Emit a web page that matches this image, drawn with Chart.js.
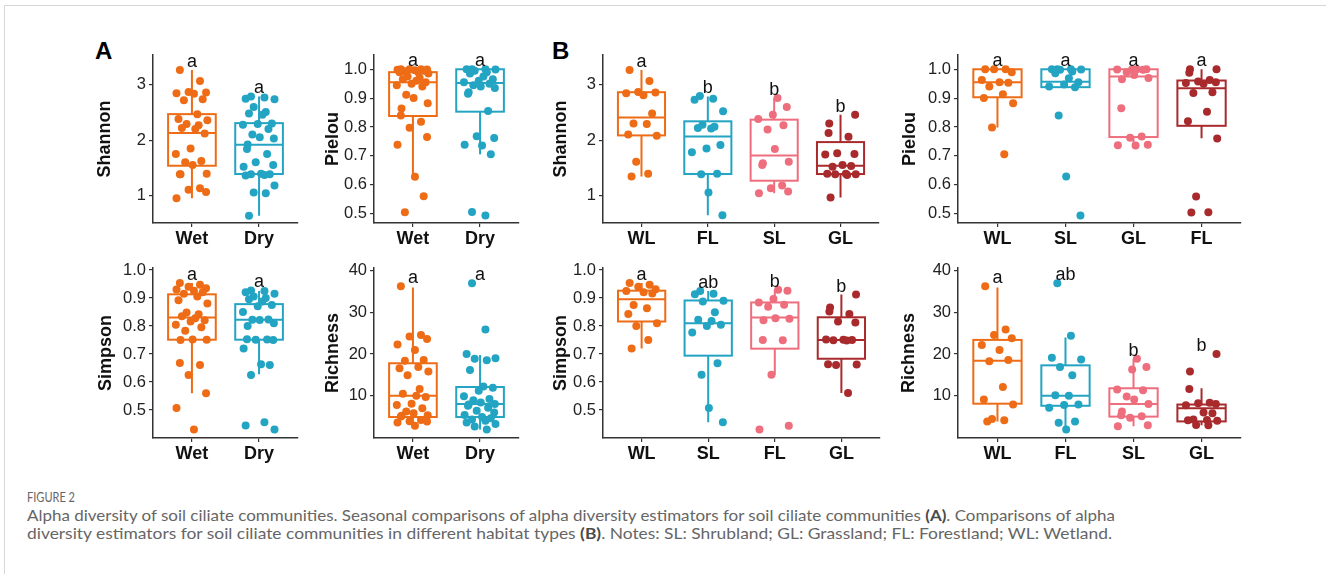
<!DOCTYPE html>
<html>
<head>
<meta charset="utf-8">
<script src="https://cdn.jsdelivr.net/npm/chart.js@4.4.1/dist/chart.umd.min.js"></script>
<style>
  body { margin: 0; background: #fff; width: 1326px; height: 574px; overflow: hidden; position: relative; }
  .frame { position: absolute; left: 4px; top: 5px; width: 1400px; height: 700px; border-top: 1px solid #d6d6d6; border-left: 1px solid #d6d6d6; }
  canvas { position: absolute; }
  .tag { position: absolute; font: bold 24px "Liberation Sans", Arial, sans-serif; line-height: 24px; color: #000; }
  .cap { position: absolute; left: 27px; white-space: nowrap; font-family: Lato, "Open Sans", sans-serif; color: #666; transform-origin: 0 0; }
  .cap b { color: #4a4a4a; }
</style>
</head>
<body>
<div class="frame"></div>
<div class="tag" style="left:95px;top:39px">A</div>
<div class="tag" style="left:552px;top:39px">B</div>

<canvas id="aShannon"></canvas>
<canvas id="aPielou"></canvas>
<canvas id="bShannon"></canvas>
<canvas id="bPielou"></canvas>
<canvas id="aSimpson"></canvas>
<canvas id="aRichness"></canvas>
<canvas id="bSimpson"></canvas>
<canvas id="bRichness"></canvas>

<div class="cap" id="cap0" data-w="48" style="top:488px;font-size:14px;">FIGURE 2</div>
<div class="cap" id="cap1" data-w="1088" style="top:505px;font-size:16px;">Alpha diversity of soil ciliate communities. Seasonal comparisons of alpha diversity estimators for soil ciliate communities <b>(A)</b>. Comparisons of alpha</div>
<div class="cap" id="cap2" data-w="1085" style="top:523px;font-size:16px;">diversity estimators for soil ciliate communities in different habitat types <b>(B)</b>. Notes: SL: Shrubland; GL: Grassland; FL: Forestland; WL: Wetland.</div>

<script>
// ---- data ----
const seasons = ['Wet', 'Dry'];

const shannonSeason = [
  [3.27, 3.07, 2.87, 2.86, 2.85, 2.84, 2.74, 2.72, 2.47, 2.38, 2.36, 2.29, 2.27, 2.22, 2.20, 2.12, 1.85, 1.75, 1.62, 1.60, 1.55, 1.39, 1.38, 1.38, 1.13, 1.10, 1.06, 0.95],
  [2.79, 2.77, 2.75, 2.74, 2.60, 2.51, 2.48, 2.46, 2.30, 2.29, 2.28, 2.20, 2.10, 2.05, 2.03, 1.92, 1.84, 1.75, 1.60, 1.55, 1.52, 1.39, 1.38, 1.38, 1.37, 1.36, 1.18, 1.05, 1.04, 0.63]
];
const shannonSeasonBox = [[0.95, 1.536, 2.127, 2.47, 3.27], [0.63, 1.386, 1.916, 2.307, 2.79]];
const shannonSeasonLetters = ['a', 'a'];

const pielouSeason = [
  [1.0, 1.0, 1.0, 0.999, 0.998, 0.997, 0.995, 0.993, 0.99, 0.99, 0.985, 0.975, 0.97, 0.965, 0.96, 0.955, 0.95, 0.945, 0.94, 0.912, 0.90, 0.882, 0.864, 0.84, 0.818, 0.797, 0.765, 0.738, 0.627, 0.56, 0.504],
  [1.0, 1.0, 1.0, 0.999, 0.995, 0.99, 0.985, 0.975, 0.965, 0.96, 0.955, 0.95, 0.945, 0.94, 0.935, 0.92, 0.915, 0.855, 0.768, 0.762, 0.738, 0.736, 0.705, 0.505, 0.493]
];
const pielouSeasonBox = [[0.628, 0.838, 0.955, 0.99, 1.0], [0.705, 0.853, 0.952, 1.0, 1.0]];
const pielouSeasonLetters = ['a', 'a'];

const simpsonSeason = [
  [0.953, 0.947, 0.94, 0.935, 0.93, 0.926, 0.92, 0.915, 0.905, 0.892, 0.88, 0.848, 0.842, 0.835, 0.828, 0.82, 0.816, 0.804, 0.795, 0.783, 0.752, 0.751, 0.750, 0.668, 0.661, 0.625, 0.560, 0.507, 0.430],
  [0.927, 0.925, 0.92, 0.915, 0.905, 0.9, 0.895, 0.887, 0.875, 0.87, 0.85, 0.823, 0.822, 0.821, 0.81, 0.80, 0.753, 0.752, 0.751, 0.75, 0.72, 0.663, 0.661, 0.625, 0.456, 0.445, 0.43]
];
const simpsonSeasonBox = [[0.56, 0.751, 0.830, 0.913, 0.953], [0.628, 0.751, 0.822, 0.878, 0.925]];
const simpsonSeasonLetters = ['a', 'a'];

const richnessSeason = [
  [36.3, 24.6, 24.2, 23.6, 22.3, 21.0, 18.6, 18.4, 16.9, 16.6, 15.8, 14.9, 11.6, 10.5, 10.0, 9.7, 8.1, 7.8, 7.0, 6.2, 5.8, 5.3, 5.2, 5.0, 4.2, 3.9, 3.8, 3.6, 2.8],
  [37.0, 25.9, 20.0, 19.0, 18.9, 18.5, 16.2, 12.2, 11.9, 11.2, 9.9, 9.2, 8.9, 8.4, 8.0, 7.9, 7.6, 7.1, 6.4, 6.0, 5.4, 4.9, 4.6, 4.3, 4.0, 3.6, 3.2, 2.6, 1.9]
];
const richnessSeasonBox = [[2.8, 4.9, 10, 17.8, 36], [1.9, 4.9, 8.0, 12.1, 19.8]];
const richnessSeasonLetters = ['a', 'a'];

const shannonHabitats = ['WL', 'FL', 'SL', 'GL'];
const shannonHabitat = [
  [3.27, 3.07, 2.87, 2.86, 2.85, 2.81, 2.48, 2.30, 2.29, 2.10, 2.08, 1.61, 1.39, 1.34],
  [2.80, 2.75, 2.73, 2.52, 2.28, 2.24, 2.22, 2.21, 1.91, 1.85, 1.78, 1.39, 1.38, 1.05, 0.64],
  [2.76, 2.60, 2.46, 2.38, 2.27, 2.19, 1.84, 1.61, 1.58, 1.55, 1.18, 1.13, 1.07, 1.04],
  [2.46, 2.30, 2.13, 2.06, 1.76, 1.75, 1.74, 1.55, 1.53, 1.52, 1.39, 1.39, 1.38, 1.38, 1.37, 0.96]
];
const shannonHabitatBox = [[1.34, 2.085, 2.41, 2.867, 3.27], [0.64, 1.386, 2.066, 2.34, 2.79], [1.04, 1.265, 1.72, 2.37, 2.76], [0.96, 1.386, 1.536, 1.964, 2.46]];
const shannonHabitatLetters = ['a', 'b', 'b', 'b'];

const pielouHabitats = ['WL', 'SL', 'GL', 'FL'];
const pielouHabitat = [
  [1.0, 1.0, 1.0, 0.99, 0.963, 0.955, 0.953, 0.94, 0.913, 0.90, 0.882, 0.798, 0.705],
  [1.0, 1.0, 1.0, 0.999, 0.998, 0.992, 0.986, 0.969, 0.955, 0.947, 0.94, 0.938, 0.84, 0.628, 0.493],
  [1.0, 1.0, 1.0, 0.999, 0.998, 0.99, 0.98, 0.97, 0.965, 0.865, 0.767, 0.763, 0.738, 0.737, 0.736],
  [1.0, 1.0, 0.988, 0.963, 0.958, 0.955, 0.952, 0.95, 0.92, 0.918, 0.853, 0.82, 0.76, 0.559, 0.504, 0.503]
];
const pielouHabitatBox = [[0.798, 0.903, 0.955, 1.0, 1.0], [0.938, 0.938, 0.957, 1.0, 1.0], [0.736, 0.765, 0.975, 1.0, 1.0], [0.761, 0.804, 0.934, 0.961, 1.0]];
const pielouHabitatLetters = ['a', 'a', 'a', 'a'];

const simpsonHabitats = ['WL', 'SL', 'FL', 'GL'];
const simpsonHabitat = [
  [0.953, 0.947, 0.94, 0.931, 0.925, 0.92, 0.916, 0.875, 0.863, 0.843, 0.81, 0.80, 0.75, 0.72],
  [0.925, 0.915, 0.913, 0.89, 0.887, 0.849, 0.822, 0.818, 0.804, 0.80, 0.777, 0.667, 0.626, 0.507, 0.456],
  [0.929, 0.926, 0.896, 0.884, 0.876, 0.869, 0.828, 0.826, 0.82, 0.75, 0.749, 0.626, 0.444, 0.43],
  [0.912, 0.866, 0.852, 0.843, 0.816, 0.812, 0.752, 0.751, 0.75, 0.749, 0.748, 0.663, 0.662, 0.661, 0.561]
];
const simpsonHabitatBox = [[0.72, 0.816, 0.895, 0.926, 0.953], [0.456, 0.694, 0.81, 0.891, 0.925], [0.626, 0.719, 0.830, 0.884, 0.929], [0.561, 0.683, 0.75, 0.831, 0.912]];
const simpsonHabitatLetters = ['a', 'ab', 'b', 'b'];

const richnessHabitats = ['WL', 'FL', 'SL', 'GL'];
const richnessHabitat = [
  [36.3, 25.9, 24.6, 23.8, 22.2, 21.0, 18.6, 18.3, 12.1, 9.1, 7.9, 4.4, 4.1, 3.8],
  [37.0, 24.4, 19.1, 18.7, 16.9, 14.9, 10.1, 10.0, 7.9, 7.8, 7.1, 3.8, 3.5, 1.9],
  [18.9, 16.9, 16.3, 11.5, 11.3, 9.8, 9.1, 8.0, 6.2, 5.3, 5.1, 4.7, 2.9, 2.7],
  [20.0, 15.8, 11.6, 8.3, 8.2, 8.0, 7.7, 6.0, 5.8, 4.3, 4.2, 4.1, 4.0, 3.0, 2.9]
];
const richnessHabitatBox = [[3.8, 8.1, 18.4, 23.4, 36], [1.9, 7.6, 10, 17.3, 24.0], [2.7, 5.0, 8.0, 11.8, 18.9], [2.9, 3.85, 7.0, 7.9, 11.8]];
const richnessHabitatLetters = ['a', 'ab', 'b', 'b'];

const shannonTicks = [1, 2, 3];
const ratioTicks = [0.5, 0.6, 0.7, 0.8, 0.9, 1.0];
const richnessTicks = [10, 20, 30, 40];

// ---- drawing ----
const colors = ['#ee6c16', '#23a4c3', '#ee6e7e', '#a82a2c'];
const jitter = [-0.18, 0.12, -0.05, 0.21, -0.23, 0.03, 0.16, -0.12, 0.08, -0.2, 0.23, -0.08, 0.1, -0.15, 0.05, 0.19, -0.02, -0.24, 0.14, -0.1, 0.01, 0.22, -0.17];
const textFont = '"Liberation Sans", Arial, sans-serif';

function boxPanel(id, g, title, yMin, yMax, yTicks, decimals, cats, groups, boxes, letters) {
  const n = cats.length;
  const xMin = 0.42, xMax = n + 0.58;
  const left = Math.round(g.titleX - 11);
  const top = g.top - 14;
  const right = g.axisX + (xMax - xMin) * g.step;
  const canvas = document.getElementById(id);
  canvas.width = Math.ceil(right - left) + 2;
  canvas.height = g.bottom - top + 30;
  canvas.style.left = left + 'px';
  canvas.style.top = top + 'px';

  const boxPlugin = {
    id: 'boxes',
    beforeDatasetsDraw(chart) {
      const { ctx, scales: { x, y } } = chart;
      const half = 0.355;
      boxes.forEach((b, i) => {
        const [lo, q1, med, q3, hi] = b;
        const cx = x.getPixelForValue(i + 1);
        const xl = x.getPixelForValue(i + 1 - half);
        const xr = x.getPixelForValue(i + 1 + half);
        ctx.save();
        ctx.strokeStyle = colors[i];
        ctx.lineWidth = 2;
        ctx.beginPath();
        ctx.moveTo(cx, y.getPixelForValue(hi));
        ctx.lineTo(cx, y.getPixelForValue(q3));
        ctx.moveTo(cx, y.getPixelForValue(q1));
        ctx.lineTo(cx, y.getPixelForValue(lo));
        ctx.stroke();
        const yt = y.getPixelForValue(q3), yb = y.getPixelForValue(q1);
        ctx.fillStyle = '#fff';
        ctx.fillRect(xl, yt, xr - xl, yb - yt);
        ctx.strokeRect(xl, yt, xr - xl, yb - yt);
        const ym = y.getPixelForValue(med);
        ctx.beginPath();
        ctx.moveTo(xl, ym);
        ctx.lineTo(xr, ym);
        ctx.stroke();
        ctx.restore();
      });
    },
    afterDatasetsDraw(chart) {
      const { ctx, scales: { x, y } } = chart;
      ctx.save();
      ctx.font = '18px ' + textFont;
      ctx.fillStyle = '#111';
      ctx.textAlign = 'center';
      ctx.textBaseline = 'alphabetic';
      letters.forEach((t, i) => {
        const top = Math.max(...groups[i]);
        ctx.fillText(t, x.getPixelForValue(i + 1), y.getPixelForValue(top) - 3);
      });
      ctx.restore();
    }
  };

  const axisGrid = { drawOnChartArea: false, drawTicks: true, tickLength: 4, tickColor: '#333', lineWidth: 1.2 };
  const axisBorder = { display: true, color: '#333', width: 1.5 };

  return new Chart(canvas.getContext('2d'), {
    type: 'scatter',
    data: {
      datasets: groups.map((vals, i) => ({
        data: vals.map((v, j) => ({ x: i + 1 + jitter[(j + i * 7) % jitter.length], y: v })),
        backgroundColor: colors[i],
        borderWidth: 0,
        pointRadius: 4,
        pointHoverRadius: 4
      }))
    },
    options: {
      responsive: false,
      animation: false,
      events: [],
      layout: { padding: { top: 14, right: 2, left: 0, bottom: 0 } },
      plugins: { legend: { display: false }, tooltip: { enabled: false } },
      scales: {
        x: {
          type: 'linear',
          min: xMin,
          max: xMax,
          afterBuildTicks: s => { s.ticks = cats.map((c, i) => ({ value: i + 1 })); },
          afterFit: s => { s.height = 30; },
          ticks: {
            callback: (v, i) => cats[i],
            font: { family: textFont, size: 18, weight: 'bold' },
            color: '#111',
            padding: 1,
            maxRotation: 0,
            autoSkip: false
          },
          grid: axisGrid,
          border: axisBorder
        },
        y: {
          type: 'linear',
          min: yMin,
          max: yMax,
          afterBuildTicks: s => { s.ticks = yTicks.map(v => ({ value: v })); },
          afterFit: s => { s.width = g.axisX - left; },
          ticks: {
            callback: v => v.toFixed(decimals),
            font: { family: textFont, size: 16.5 },
            color: '#222',
            padding: 3
          },
          title: { display: true, text: title, font: { family: textFont, size: 18, weight: 'bold' }, color: '#111', padding: 0 },
          grid: axisGrid,
          border: axisBorder
        }
      }
    },
    plugins: [boxPlugin]
  });
}

const topRow = { top: 55, bottom: 223 };
const bottomRow = { top: 268, bottom: 438 };

boxPanel('aShannon', { ...topRow, titleX: 105, axisX: 153, step: 67.7 }, 'Shannon', 0.50, 3.54, shannonTicks, 0, seasons, shannonSeason, shannonSeasonBox, shannonSeasonLetters);
boxPanel('aPielou', { ...topRow, titleX: 333, axisX: 374, step: 67.7 }, 'Pielou', 0.467, 1.0495, ratioTicks, 1, seasons, pielouSeason, pielouSeasonBox, pielouSeasonLetters);
boxPanel('bShannon', { ...topRow, titleX: 561, axisX: 603, step: 66.7 }, 'Shannon', 0.50, 3.54, shannonTicks, 0, shannonHabitats, shannonHabitat, shannonHabitatBox, shannonHabitatLetters);
boxPanel('bPielou', { ...topRow, titleX: 910, axisX: 958, step: 68.3 }, 'Pielou', 0.467, 1.0495, ratioTicks, 1, pielouHabitats, pielouHabitat, pielouHabitatBox, pielouHabitatLetters);
boxPanel('aSimpson', { ...bottomRow, titleX: 106, axisX: 153, step: 67.7 }, 'Simpson', 0.40, 1.007, ratioTicks, 1, seasons, simpsonSeason, simpsonSeasonBox, simpsonSeasonLetters);
boxPanel('aRichness', { ...bottomRow, titleX: 333, axisX: 374, step: 67.7 }, 'Richness', -0.13, 40.65, richnessTicks, 0, seasons, richnessSeason, richnessSeasonBox, richnessSeasonLetters);
boxPanel('bSimpson', { ...bottomRow, titleX: 561, axisX: 603, step: 67 }, 'Simpson', 0.40, 1.007, ratioTicks, 1, simpsonHabitats, simpsonHabitat, simpsonHabitatBox, simpsonHabitatLetters);
boxPanel('bRichness', { ...bottomRow, titleX: 909, axisX: 958, step: 68.3 }, 'Richness', -0.13, 40.65, richnessTicks, 0, richnessHabitats, richnessHabitat, richnessHabitatBox, richnessHabitatLetters);

// stretch caption lines to the widths they have in the figure
document.querySelectorAll('.cap').forEach(el => {
  const w = el.getBoundingClientRect().width;
  el.style.transform = 'scaleX(' + (el.dataset.w / w) + ')';
});
</script>
</body>
</html>
